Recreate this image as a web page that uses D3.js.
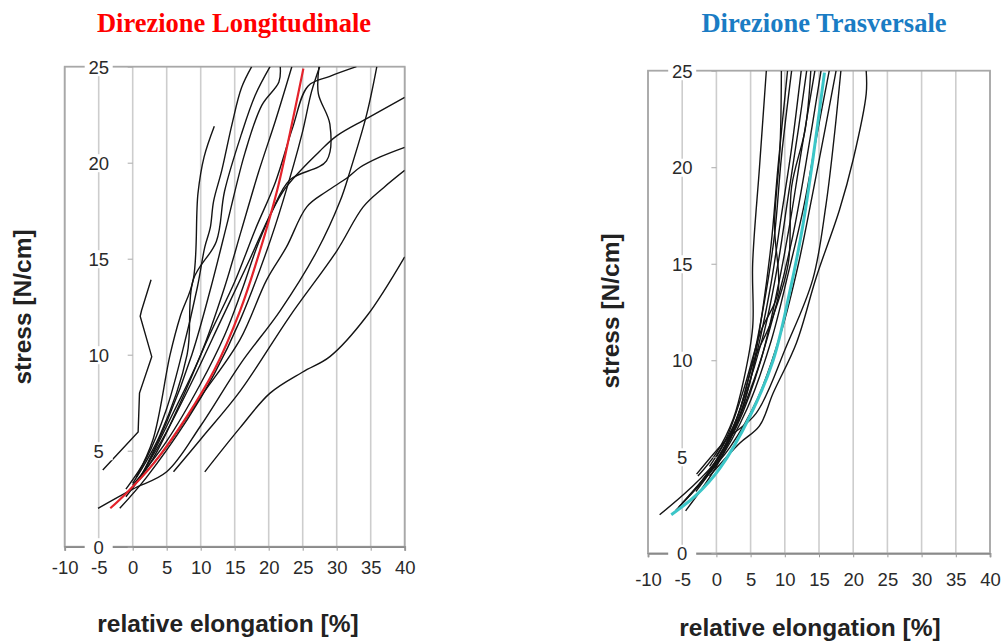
<!DOCTYPE html>
<html><head><meta charset="utf-8">
<script src="https://cdn.jsdelivr.net/npm/d3@7/dist/d3.min.js"></script>
<style>html,body{margin:0;padding:0;background:#fff;}svg{display:block;}</style>
</head><body>
<svg id="chart" width="1003" height="643"></svg>
<script>
// ---------- tick values ----------
const xTicks = [-10, -5, 0, 5, 10, 15, 20, 25, 30, 35, 40];
const yTicks = [0, 5, 10, 15, 20, 25];

// ---------- Direzione Longitudinale : individual specimens [elongation %, stress N/cm] ----------
const longR1 = [[10.6,3.9],[15.8,6.2],[20.2,8.0],[25,9.1],[29.0,9.9],[34.4,12.0],[40,15.1]];
const longP  = [[6.0,3.9],[10,5.6],[15.8,8.1],[23.1,12.0],[30,15.4],[33.9,17.7],[36.9,18.7],[40,19.6]];
const longQ  = [[-5.1,2.0],[0,3.0],[5,3.9],[10,6.3],[15.8,9.5],[21.7,12.3],[27.1,15.4],[30.5,18.0],[32,19.6],[34.4,22.5],[35.9,25]];
const longS  = [[1,3.5],[5,5.2],[10,7.8],[15.8,10.8],[19.7,13.9],[22.6,15.6],[25.6,17.7],[28.5,18.5],[31.5,19.2],[33.4,19.75],[36.4,20.3],[40,20.8]];
const longF  = [[0,3.2],[5,5.5],[10,8.5],[13.5,11],[16,13.3],[18.7,16],[22.1,18.5],[27.5,20.6],[30,21.4],[34.4,22.3],[40,23.4]];
const longK2 = [[0.5,3.3],[5,6],[9,8.8],[13,11.8],[17,14.8],[20.5,17.5],[23.1,19.1],[28.5,20.1],[29.0,22.0],[27.3,23.6],[27.4,25]];
const longK1 = [[-1,2.6],[3,4.6],[7,7.5],[11,10.8],[15,13.8],[18,16.5],[21,19],[23.5,21.8],[25.8,24.0],[29,24.5],[32.9,25]];
const longC  = [[-1.9,2.0],[2,3.6],[8,6.6],[12,9.0],[15.8,11.8],[19.7,15.4],[22.1,18.0],[24.9,21.5],[26.3,23.7],[27.5,25]];
const longT1 = [[-1,3.0],[2,4.6],[5,7.2],[7.2,10],[9.5,13.5],[10.6,15.6],[11.4,16.6],[11.9,18.0],[13.1,19.6],[14.6,22.0],[16.0,23.9],[17.5,25]];
const longB  = [[0.5,3.6],[3,5.6],[5.5,10],[7,12],[8.9,13.9],[9.6,18.4],[10.5,20.3],[12,21.9]];
const longT2 = [[0,3.3],[4,5.8],[8,10],[8.9,13.9],[12.3,15.9],[13.5,18.5],[16,21.5],[18,23.5],[20.2,25]];
const longT3 = [[1,3.5],[5,6.5],[8.7,10],[11.5,13.5],[14,17],[16.5,20.5],[19,23],[21.5,24.2],[21.7,25]];
const longT4 = [[1.5,3.8],[6,7],[10,10],[13.5,13.5],[16,16.5],[18.5,19.5],[21,22.2],[23.4,25]];
const longA  = [[-4.4,4.0],[0.8,5.97],[1.0,8.0],[2.8,9.9],[1.1,12.0],[1.3,12.3],[2.7,13.9]];
// mean curve (red)
const longMean = [[-3.3,2.0],[-0.9,2.8],[3,4.3],[8,6.8],[12,9.2],[15.8,12.3],[18.7,15.4],[21.2,18.5],[23.1,21.5],[25.1,24.9]];

// ---------- Direzione Trasversale ----------
const transB1  = [[-2.7,4.0],[0,5.2],[2.5,7],[4,9],[5.3,11.7],[5.3,15],[6.3,20],[7.3,25]];
const transB2  = [[-8.3,2.0],[-4,3.3],[0,4.8],[3,6.8],[5,9],[6.5,12],[8,16],[9,20],[10.4,25]];
const transB3  = [[-5,2.6],[-1,4.3],[2.5,6.5],[5,9.5],[7,13],[8.5,16.5],[9.5,20.5],[11,25]];
const transB4  = [[-4.5,2.2],[0,4.5],[3.5,7.2],[6,10.5],[8,14],[9.5,17.5],[11,21],[12.4,25]];
const transB5  = [[-3,3.2],[0.5,5],[4,8],[7,11.5],[9,15],[10.5,18.5],[12,22],[13.2,25]];
const transB6  = [[-5.5,2.4],[-1,4.2],[3,6.6],[6.5,10],[9,13.8],[10.7,17],[12.5,21],[14.4,25]];
const transB7  = [[-6,2.2],[-2,3.8],[2,6],[6,9.5],[9,13.2],[11.2,16.5],[13,20],[15.3,25]];
const transB8  = [[-4,3.0],[0,4.6],[4.5,7.5],[8,11],[10.5,14.5],[12.8,18],[14.6,21.5],[16.5,25]];
const transB9  = [[-2,3.8],[2,5.5],[6,8],[9.5,11.5],[12,15],[14,18.5],[15.8,21.8],[17.5,25]];
const transB10 = [[-1,4.0],[3.4,5.7],[6.3,6.6],[8.3,8.3],[11.7,10.9],[14.6,14.3],[18,17.8],[20,20.4],[21.9,23.8],[21.9,25]];
const transB11 = [[-2.9,4.1],[1.5,5.9],[5.8,7.25],[10.2,10.7],[14.1,14.2],[16,18],[17.2,21.5],[18.2,25]];
const transB12 = [[-1,4.5],[1.5,6.0],[4,8.5],[6.5,11.5],[9,13.5],[8.5,17],[9.3,21],[9.5,25]];
const transB13 = [[0,5],[3,7],[5.5,10],[8,12],[10.5,15],[11,19],[13,22],[13.8,25]];
// mean curve (cyan)
const transMean = [[-6.6,2.0],[-3,3.0],[0.5,4.4],[4.9,7.1],[8.3,10.0],[10.7,13.5],[12.6,16.9],[14.1,20.4],[15.8,24.9]];

const longCurves  = [longR1,longP,longQ,longS,longF,longK2,longK1,longC,longT1,longB,longT2,longT3,longT4];
const longPolylines = [longA];
const transCurves = [transB1,transB2,transB3,transB4,transB5,transB6,transB7,transB8,transB9,transB10,transB11,transB12,transB13];

const svg = d3.select('#chart');
const SANS = '"Liberation Sans", Arial, sans-serif';
const SERIF = '"Liberation Serif", "Times New Roman", serif';

function panel(cfg) {
  const g = svg.append('g');
  const x = d3.scaleLinear().domain([-10, 40]).range([cfg.left, cfg.right]);
  const y = d3.scaleLinear().domain([0, 25]).range([cfg.bottom, cfg.top]);

  // vertical grid lines
  g.append('g').selectAll('line').data(xTicks).join('line')
    .attr('x1', d => x(d)).attr('x2', d => x(d))
    .attr('y1', y(25)).attr('y2', y(0))
    .attr('stroke', '#cdcdcd').attr('stroke-width', 1.6);
  // frame
  g.append('rect').attr('x', x(-10)).attr('y', y(25))
    .attr('width', x(40) - x(-10)).attr('height', y(0) - y(25))
    .attr('fill', 'none').attr('stroke', '#a8a8a8').attr('stroke-width', 1.8);

  // x axis
  const xa = g.append('g').attr('transform', `translate(0,${y(0)})`)
    .call(d3.axisBottom(x).tickValues(xTicks).tickSize(4).tickPadding(cfg.xPad).tickFormat(d => String(d)));
  xa.select('.domain').attr('stroke', '#8a8a8a').attr('stroke-width', 1.8);
  xa.selectAll('.tick line').attr('stroke', '#999');
  xa.selectAll('text').attr('font-family', SANS).attr('font-size', 18.5).attr('fill', '#2a2a2a');

  // clip for curves
  const cid = 'clip' + cfg.id;
  svg.append('clipPath').attr('id', cid).append('rect')
    .attr('x', x(-10)).attr('y', y(25)).attr('width', x(40) - x(-10)).attr('height', y(0) - y(25));

  const lineSmooth = d3.line().x(d => x(d[0])).y(d => y(d[1])).curve(d3.curveCatmullRom.alpha(0.5));
  const lineStraight = d3.line().x(d => x(d[0])).y(d => y(d[1]));
  const cg = g.append('g').attr('clip-path', `url(#${cid})`);
  cg.selectAll('path.spec').data(cfg.curves).join('path').attr('class', 'spec')
    .attr('d', lineSmooth).attr('fill', 'none').attr('stroke', '#141414').attr('stroke-width', 1.4);
  cg.selectAll('path.poly').data(cfg.polylines || []).join('path').attr('class', 'poly')
    .attr('d', lineStraight).attr('fill', 'none').attr('stroke', '#141414').attr('stroke-width', 1.4);
  cg.append('path').datum(cfg.mean).attr('d', lineSmooth)
    .attr('fill', 'none').attr('stroke', cfg.meanColor).attr('stroke-width', cfg.meanWidth);

  // y axis : ticks at x=0, labels centred on x=-5 with white backing
  const ya = g.append('g').attr('transform', `translate(${x(0)},0)`)
    .call(d3.axisLeft(y).tickValues(yTicks).tickSize(5).tickFormat(d => String(d)));
  ya.select('.domain').remove();
  ya.selectAll('.tick line').attr('stroke', '#aaa');
  ya.selectAll('.tick text').attr('x', x(-5) - x(0)).attr('dy', '0.36em')
    .attr('text-anchor', 'middle').attr('font-family', SANS).attr('font-size', 18.5).attr('fill', '#2a2a2a');
  ya.selectAll('.tick').insert('rect', 'text')
    .attr('x', x(-5) - x(0) - 14).attr('y', -9).attr('width', 28).attr('height', 18).attr('fill', '#fff');
  ya.selectAll('.tick text').raise();

  // axis titles
  g.append('text').attr('transform', `translate(${cfg.yTitleX},${cfg.yTitleY}) rotate(-90)`)
    .attr('text-anchor', 'middle').attr('font-family', SANS).attr('font-weight', 'bold')
    .attr('font-size', 24.5).attr('fill', '#222').text('stress [N/cm]');
  g.append('text').attr('x', cfg.xTitleX).attr('y', cfg.xTitleY)
    .attr('text-anchor', 'middle').attr('font-family', SANS).attr('font-weight', 'bold')
    .attr('font-size', 24.5).attr('fill', '#222').text('relative elongation [%]');

  // panel title
  svg.append('text').attr('x', cfg.titleX).attr('y', 32).attr('text-anchor', 'middle')
    .attr('font-family', SERIF).attr('font-weight', 'bold').attr('font-size', 26.5)
    .attr('fill', cfg.titleColor).text(cfg.title);
}

panel({id: 'L', left: 64.7, right: 404.7, top: 66.7, bottom: 546.7, xPad: 10,
  curves: longCurves, polylines: longPolylines, mean: longMean, meanColor: '#e4232b', meanWidth: 2.2,
  yTitleX: 31, yTitleY: 307, xTitleX: 228, xTitleY: 632,
  title: 'Direzione Longitudinale', titleColor: '#ff0000', titleX: 234});

panel({id: 'R', left: 648, right: 990, top: 70.7, bottom: 553.3, xPad: 16,
  curves: transCurves, polylines: [], mean: transMean, meanColor: '#3cc6c8', meanWidth: 3,
  yTitleX: 619, yTitleY: 311, xTitleX: 810, xTitleY: 636,
  title: 'Direzione Trasversale', titleColor: '#1a7cc4', titleX: 824});
</script>
</body></html>
